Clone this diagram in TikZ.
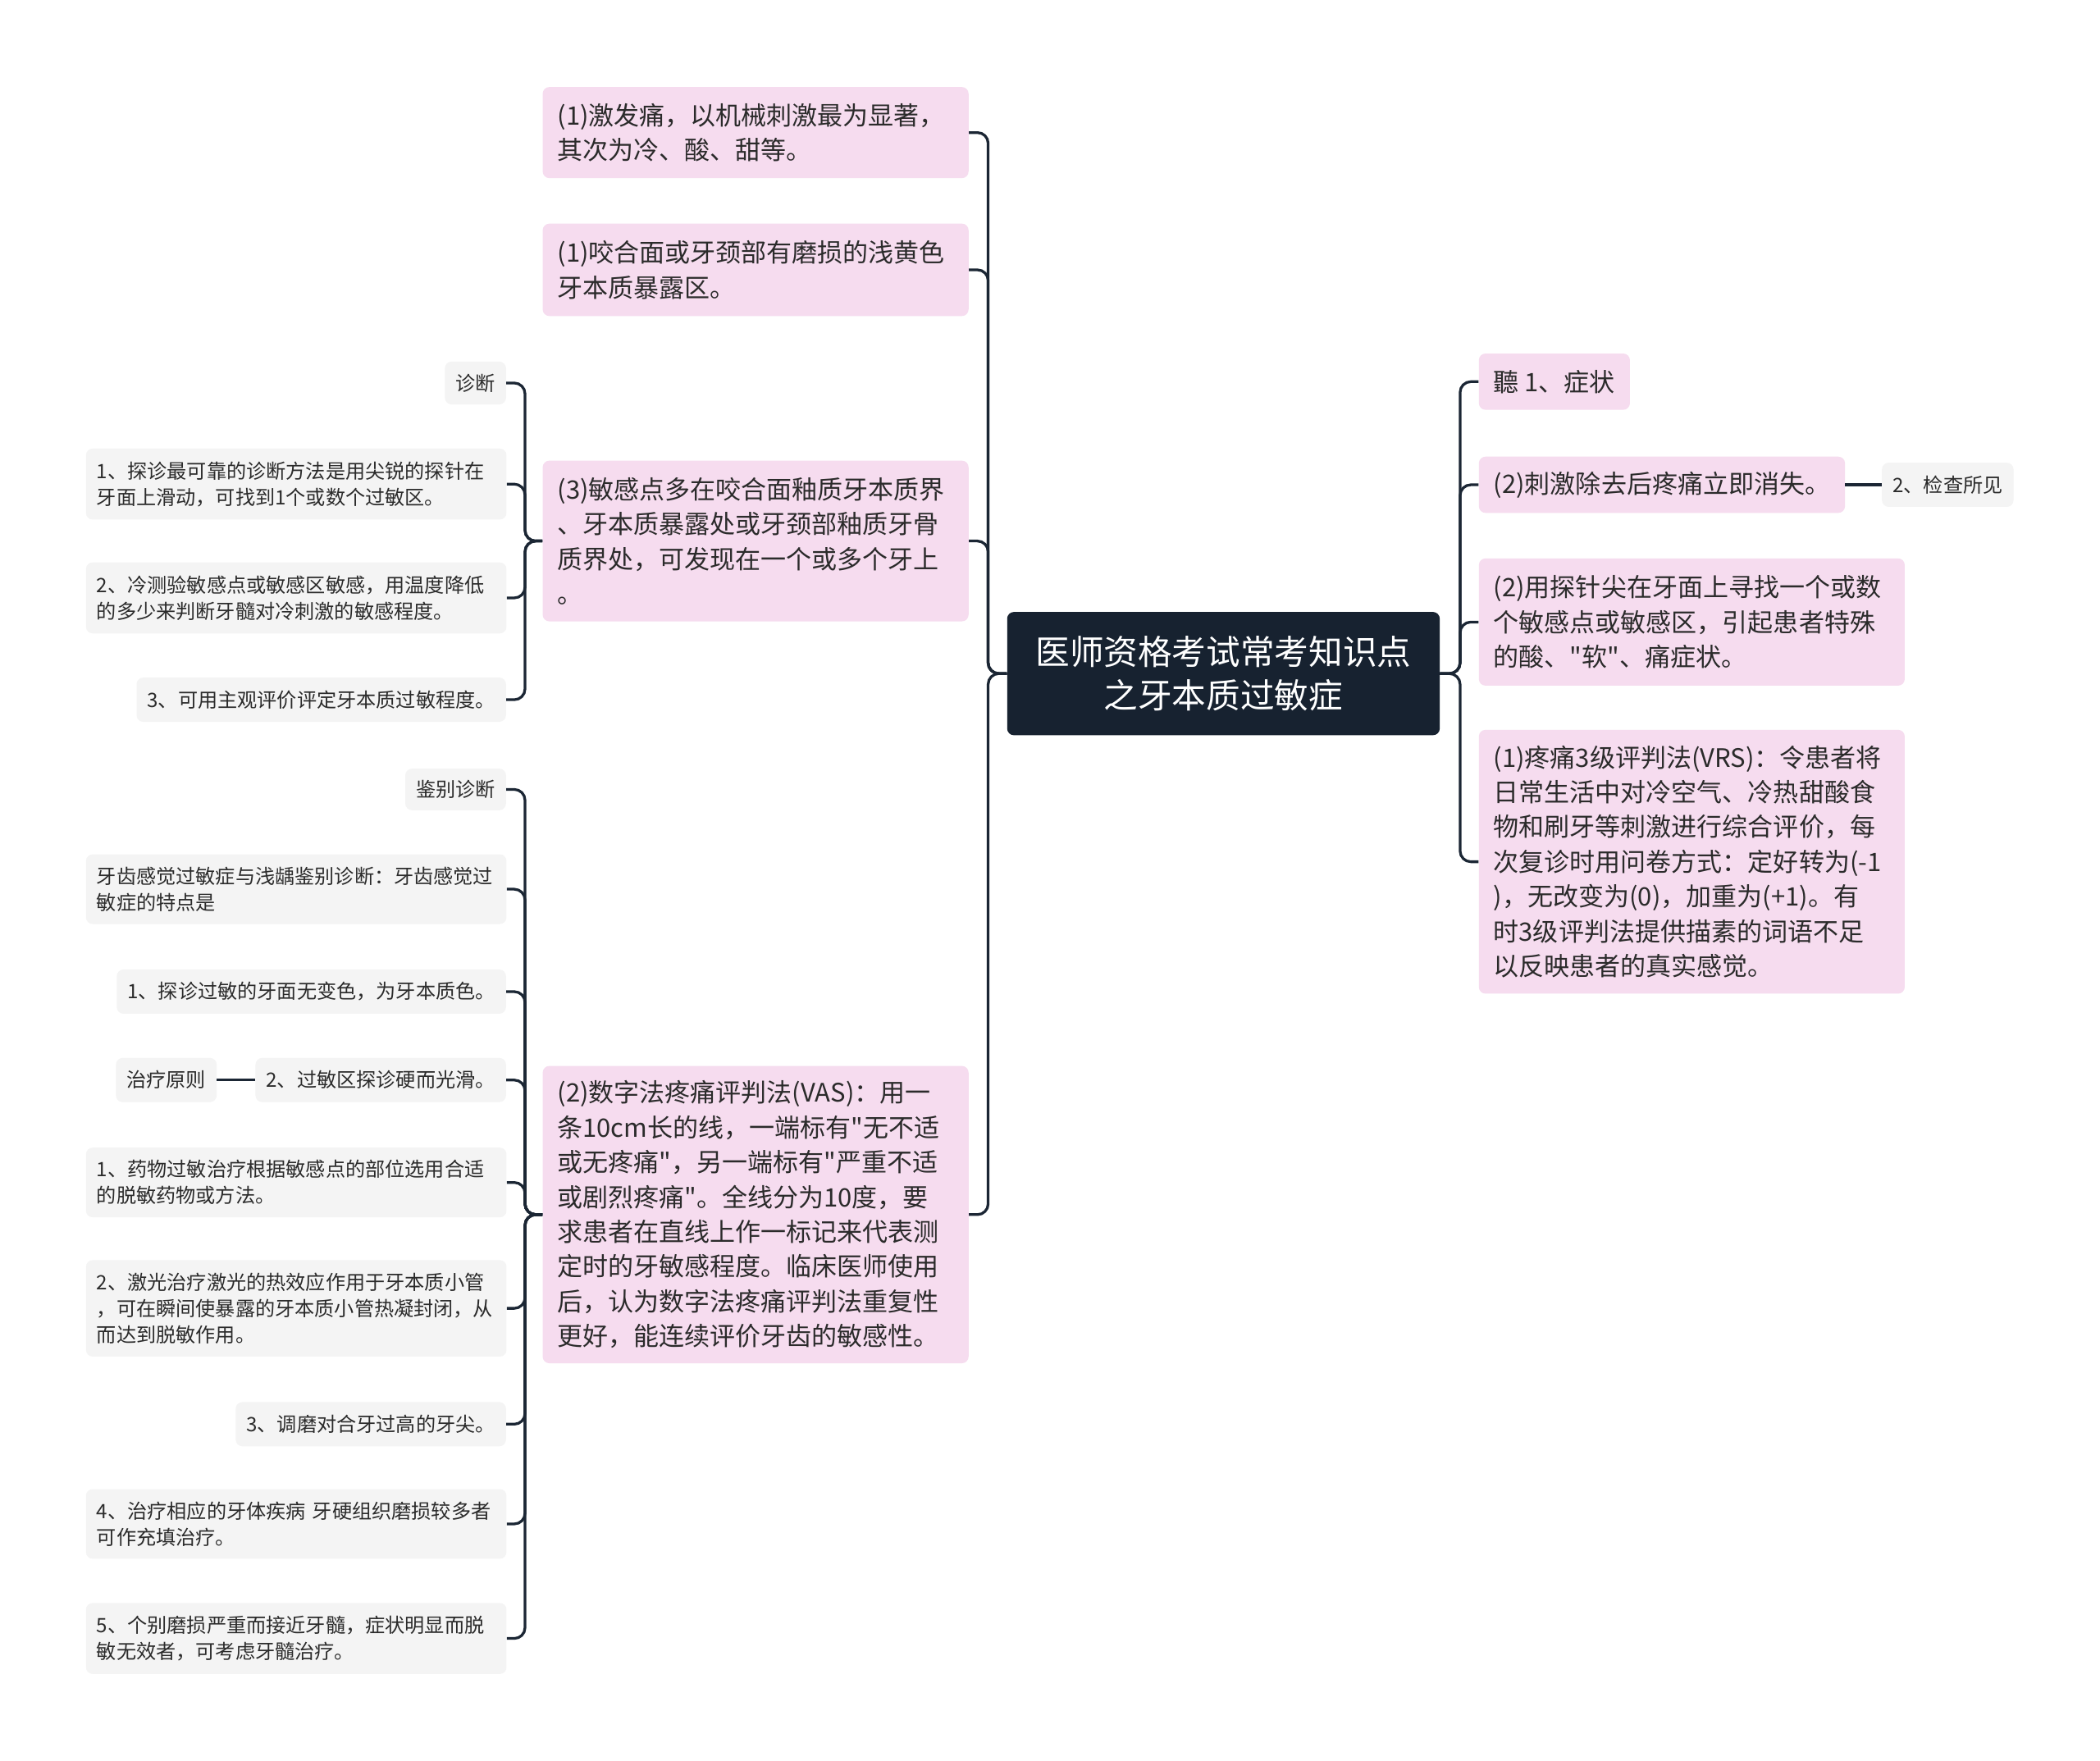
\documentclass[tikz,border=0pt]{standalone}
\usepackage{fontspec}
\newfontfamily\cjk{Noto Sans CJK SC}
\definecolor{pinkc}{HTML}{F6DCEF}
\definecolor{greyc}{HTML}{F4F4F4}
\definecolor{rootc}{HTML}{172230}
\definecolor{linec}{HTML}{1B2634}
\definecolor{txtc}{HTML}{2B2B2B}
\begin{document}
\begin{tikzpicture}[x=1pt,y=-1pt,
  pinkbox/.style={fill=pinkc, rounded corners=5pt, inner xsep=11pt, inner ysep=0pt,
    font=\cjk\fontsize{19}{26}\selectfont, align=left, text=txtc},
  pinkwide/.style={pinkbox, text width=296pt},
  greybox/.style={fill=greyc, rounded corners=5pt, inner xsep=8pt, inner ysep=0pt,
    font=\cjk\fontsize{14.8}{19.5}\selectfont, align=left, text=txtc},
  greywide/.style={greybox, text width=298pt},
  rootbox/.style={fill=rootc, rounded corners=5pt, text=white, align=center,
    font=\cjk\fontsize{25.5}{33}\selectfont, minimum width=323pt, minimum height=92pt, inner sep=0pt},
  conn/.style={draw=linec, line width=2pt, rounded corners=8pt}]
\useasboundingbox[fill=white] (0,0) rectangle (1568,1315);

% root
\node[rootbox] (root) at (913.5,503) {医师资格考试常考知识点\\之牙本质过敏症};

% left main
\node[pinkwide, anchor=west, minimum height=68pt] (L1) at (405,99)
  {(1)激发痛，以机械刺激最为显著，\\其次为冷、酸、甜等。};
\node[pinkwide, anchor=west, minimum height=69pt] (L2) at (405,201.5)
  {(1)咬合面或牙颈部有磨损的浅黄色\\牙本质暴露区。};
\node[pinkwide, anchor=west, minimum height=120pt] (L3) at (405,404)
  {(3)敏感点多在咬合面釉质牙本质界\\、牙本质暴露处或牙颈部釉质牙骨\\质界处，可发现在一个或多个牙上\\。};
\node[pinkwide, anchor=west, minimum height=222pt] (L4) at (405,907)
  {(2)数字法疼痛评判法(VAS)：用一\\条10cm长的线，一端标有"无不适\\或无疼痛"，另一端标有"严重不适\\或剧烈疼痛"。全线分为10度，要\\求患者在直线上作一标记来代表测\\定时的牙敏感程度。临床医师使用\\后，认为数字法疼痛评判法重复性\\更好，能连续评价牙齿的敏感性。};

% right main
\node[pinkbox, anchor=west, minimum height=42pt] (R1) at (1104,285) {聽 1、症状};
\node[pinkbox, anchor=west, minimum height=42pt] (R2) at (1104,362) {(2)刺激除去后疼痛立即消失。};
\node[pinkwide, anchor=west, minimum height=95pt] (R3) at (1104,464.5)
  {(2)用探针尖在牙面上寻找一个或数\\个敏感点或敏感区，引起患者特殊\\的酸、"软"、痛症状。};
\node[pinkwide, anchor=west, minimum height=197pt] (R4) at (1104,643.5)
  {(1)疼痛3级评判法(VRS)：令患者将\\日常生活中对冷空气、冷热甜酸食\\物和刷牙等刺激进行综合评价，每\\次复诊时用问卷方式：定好转为(-1\\)，无改变为(0)，加重为(+1)。有\\时3级评判法提供描素的词语不足\\以反映患者的真实感觉。};
\node[greybox, anchor=west, minimum height=33pt] (K) at (1405,362) {2、检查所见};

% L3 children
\node[greybox, anchor=east, minimum height=32pt] (D0) at (378,286) {诊断};
\node[greywide, anchor=west, minimum height=53pt] (D1) at (64,361.5)
  {1、探诊最可靠的诊断方法是用尖锐的探针在\\牙面上滑动，可找到1个或数个过敏区。};
\node[greywide, anchor=west, minimum height=53pt] (D2) at (64,446.5)
  {2、冷测验敏感点或敏感区敏感，用温度降低\\的多少来判断牙髓对冷刺激的敏感程度。};
\node[greybox, anchor=east, minimum height=33pt] (D3) at (378,522.5) {3、可用主观评价评定牙本质过敏程度。};

% L4 children
\node[greybox, anchor=east, minimum height=31pt] (J0) at (378,589.5) {鉴别诊断};
\node[greywide, anchor=west, minimum height=52pt] (J1) at (64,664)
  {牙齿感觉过敏症与浅龋鉴别诊断：牙齿感觉过\\敏症的特点是};
\node[greybox, anchor=east, minimum height=33pt] (J2) at (378,740.5) {1、探诊过敏的牙面无变色，为牙本质色。};
\node[greybox, anchor=east, minimum height=33pt] (J3) at (378,806.5) {2、过敏区探诊硬而光滑。};
\node[greybox, anchor=east, minimum height=33pt] (Z) at (162,806.5) {治疗原则};
\node[greywide, anchor=west, minimum height=52pt] (J4) at (64,883)
  {1、药物过敏治疗根据敏感点的部位选用合适\\的脱敏药物或方法。};
\node[greywide, anchor=west, minimum height=72pt] (J5) at (64,977)
  {2、激光治疗激光的热效应作用于牙本质小管\\，可在瞬间使暴露的牙本质小管热凝封闭，从\\而达到脱敏作用。};
\node[greybox, anchor=east, minimum height=33pt] (J6) at (378,1063.5) {3、调磨对合牙过高的牙尖。};
\node[greywide, anchor=west, minimum height=52pt] (J7) at (64,1138)
  {4、治疗相应的牙体疾病 牙硬组织磨损较多者\\可作充填治疗。};
\node[greywide, anchor=west, minimum height=53pt] (J8) at (64,1223.5)
  {5、个别磨损严重而接近牙髓，症状明显而脱\\敏无效者，可考虑牙髓治疗。};

% connectors root -> left
\foreach \n in {L1,L2,L3,L4}
  \draw[conn] (root.west) -- ++(-14,0) |- (\n.east);
% root -> right
\foreach \n in {R1,R2,R3,R4}
  \draw[conn] (root.east) -- ++(15,0) |- (\n.west);
\draw[conn] (R2.east) -- (K.west);
% L3 -> children
\foreach \n in {D0,D1,D2,D3}
  \draw[conn] (L3.west) -- ++(-13,0) |- (\n.east);
% L4 -> children
\foreach \n in {J0,J1,J2,J3,J4,J5,J6,J7,J8}
  \draw[conn] (L4.west) -- ++(-13,0) |- (\n.east);
\draw[conn] (J3.west) -- (Z.east);
\end{tikzpicture}
\end{document}
